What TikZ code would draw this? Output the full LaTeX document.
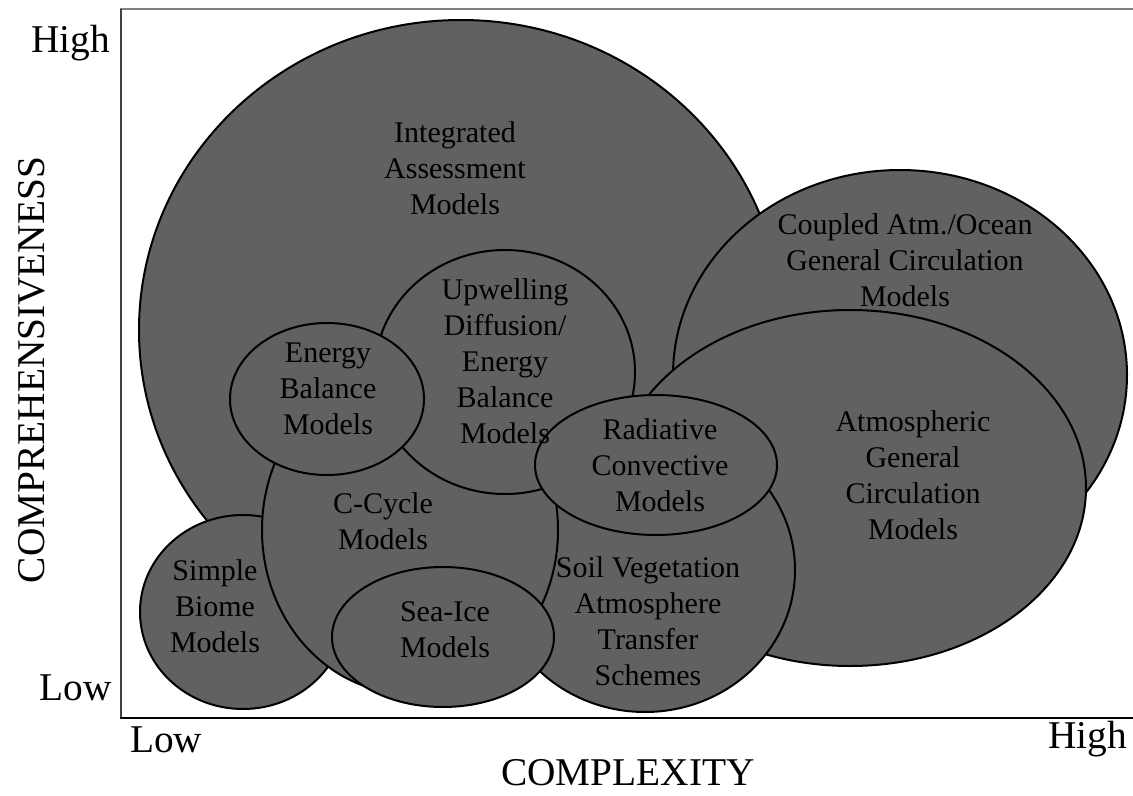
\documentclass[tikz,border=0pt]{standalone}
\usepackage{fontspec}
\setmainfont{Liberation Serif}
\definecolor{blobfill}{gray}{0.38}
\begin{document}
\begin{tikzpicture}[x=0.75pt,y=-0.75pt,
  blob/.style={draw=black, line width=1.5pt, fill=blobfill},
  lbl/.style={align=center, font=\fontsize{22.5}{27}\selectfont, inner sep=0pt},
  axlbl/.style={font=\fontsize{29.5}{33}\selectfont, inner sep=0pt}]
\useasboundingbox (0,0) rectangle (1133,796);
\fill[white] (0,0) rectangle (1133,796);

% plot frame and axes
\draw[gray, line width=1pt] (120,9) -- (1133,9);
\draw[black!75, line width=1.3pt] (121,9) -- (121,718);
\draw[line width=2.2pt] (120,718) -- (1133,718);

% model classes, back to front
\filldraw[blob] (461,330) ellipse [x radius=322, y radius=310]; % integrated assessment
\filldraw[blob] (900,375) ellipse [x radius=227, y radius=205]; % coupled AO-GCM
\filldraw[blob] (850,488) ellipse [x radius=236, y radius=178]; % atmospheric GCM
\filldraw[blob] (243,612) ellipse [x radius=103, y radius=97];  % simple biome
\filldraw[blob] (645,570) ellipse [x radius=150, y radius=142]; % SVAT
\filldraw[blob] (410,530) ellipse [x radius=148, y radius=164]; % C-cycle
\filldraw[blob] (505,372) ellipse [x radius=130, y radius=122]; % upwelling diffusion
\filldraw[blob] (327,399) ellipse [x radius=97, y radius=76];   % energy balance
\filldraw[blob] (443,637) ellipse [x radius=111, y radius=70];  % sea ice
\filldraw[blob] (656,465) ellipse [x radius=121, y radius=70];  % radiative convective

% labels
\node[lbl] (iam)  at (455,168) {Integrated\\Assessment\\Models};
\node[lbl] (udeb) at (505,361) {Upwelling\\Diffusion/\\Energy\\Balance\\Models};
\node[lbl] (ebm)  at (328,389) {Energy\\Balance\\Models};
\node[lbl] (ccy)  at (383,521) {C-Cycle\\Models};
\node[lbl] (sbm)  at (215,606) {Simple\\Biome\\Models};
\node[lbl] (sim)  at (445,630) {Sea-Ice\\Models};
\node[lbl] (svat) at (648,621) {Soil Vegetation\\Atmosphere\\Transfer\\Schemes};
\node[lbl] (rcm)  at (660,465) {Radiative\\Convective\\Models};
\node[lbl] (aogcm) at (905,260) {Coupled Atm./Ocean\\General Circulation\\Models};
\node[lbl] (agcm) at (913,475) {Atmospheric\\General\\Circulation\\Models};

% axis annotations
\node[axlbl, anchor=base east] (yhigh) at (110,52) {High};
\node[axlbl, anchor=base east] (ylow)  at (112,700) {Low};
\node[axlbl, anchor=base west] (xlow)  at (130,752) {Low};
\node[axlbl, anchor=base east] (xhigh) at (1127,748) {High};
\node[axlbl, anchor=base] (xtitle) at (628,785) {COMPLEXITY};
\node[axlbl, anchor=base, rotate=90] (ytitle) at (45,370) {COMPREHENSIVENESS};
\end{tikzpicture}
\end{document}
